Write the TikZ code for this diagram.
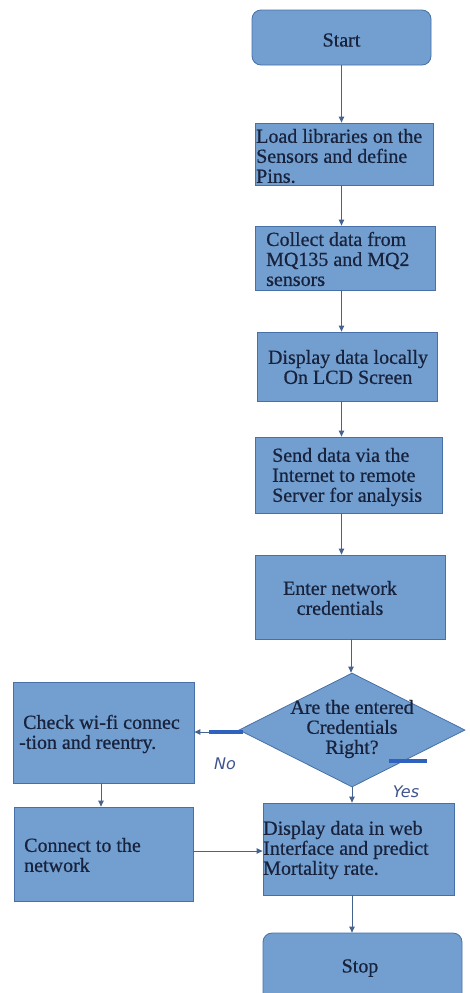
\documentclass[tikz,border=0pt]{standalone}
\usepackage{fontspec}
\setmainfont{Liberation Serif}[FakeBold=0.6]
\newfontfamily\boxfont{Liberation Serif}[FakeBold=0.6]
\newfontfamily\lblfont{DejaVu Sans}
\usetikzlibrary{shapes.geometric,arrows.meta}
\definecolor{boxfill}{RGB}{114,159,207}
\definecolor{boxline}{RGB}{72,112,168}
\definecolor{arrowc}{RGB}{70,98,145}
\definecolor{txtc}{RGB}{24,34,60}
\definecolor{barc}{RGB}{46,98,190}
\definecolor{lblc}{RGB}{62,84,140}
\begin{document}
\begin{tikzpicture}[x=1pt,y=-1pt,
 box/.style={draw=boxline, fill=boxfill, line width=0.8pt, inner sep=0pt},
 term/.style={box, rounded corners=9pt},
 txt/.style={text=txtc, font=\boxfont\fontsize{20}{20}\selectfont, inner sep=0pt},
 arr/.style={draw=arrowc, line width=0.9pt, -{Triangle[length=6pt,width=5.5pt]}},
 bar/.style={draw=barc, line width=3.5pt},
 lbl/.style={text=lblc, font=\lblfont\itshape\fontsize{16}{16}\selectfont, inner sep=0pt}]
\useasboundingbox (0,0) rectangle (470,993);

% boxes
\node[term, minimum width=179pt, minimum height=55pt] (start) at (341.5,37.5) {};
\node[box, minimum width=178pt, minimum height=62pt] (load) at (344,154) {};
\node[box, minimum width=180pt, minimum height=64pt] (collect) at (345,258) {};
\node[box, minimum width=180pt, minimum height=69pt] (display) at (347,366.5) {};
\node[box, minimum width=187pt, minimum height=76pt] (send) at (348.5,475) {};
\node[box, minimum width=190pt, minimum height=84pt] (enter) at (350,597) {};
\node[diamond, draw=boxline, fill=boxfill, line width=0.8pt, inner sep=0pt, minimum width=226pt, minimum height=114pt] (dia) at (352,730) {};
\node[box, minimum width=181pt, minimum height=101pt] (check) at (103.5,732.5) {};
\node[box, minimum width=179pt, minimum height=94pt] (connect) at (103.5,854) {};
\node[box, minimum width=191pt, minimum height=92pt] (web) at (358.5,849) {};
\node[term, minimum width=199pt, minimum height=70pt] (stop) at (362.5,968) {};

% texts
\node[txt] (startt) at (341.5,40) {Start};
\node[txt, anchor=west, align=left] (loadt) at (256,156) {Load libraries on the\\Sensors and define\\Pins.};
\node[txt, anchor=west, align=left] (collectt) at (266,259) {Collect data from\\MQ135 and MQ2\\sensors};
\node[txt, align=center] (displayt) at (348,367) {Display data locally\\On LCD Screen};
\node[txt, anchor=west, align=left] (sendt) at (272,477) {Send data via the\\Internet to remote\\Server for analysis};
\node[txt, align=center] (entert) at (340,598) {Enter network\\credentials};
\node[txt, align=center] (diat) at (352,729) {Are the entered\\Credentials\\Right?};
\node[txt, anchor=west, align=left] (checkt) at (19,734) {\hspace*{4pt}Check wi-fi connec\\-tion and reentry.};
\node[txt, anchor=west, align=left] (connectt) at (24,855) {Connect to the\\network};
\node[txt, anchor=west, align=left] (webt) at (263,850) {Display data in web\\Interface and predict\\Mortality rate.};
\node[txt] (stopt) at (360,968) {Stop};

% connectors
\draw[arr] (start.south) -- (start.south |- load.north);
\draw[arr] (load.south -| start.south) -- (collect.north -| start.south);
\draw[arr] (collect.south -| start.south) -- (display.north -| start.south);
\draw[arr] (display.south -| start.south) -- (send.north -| start.south);
\draw[arr] (send.south -| start.south) -- (enter.north -| start.south);
\draw[arr] ([xshift=1pt]enter.south) -- ([xshift=1pt]enter.south |- dia.north);
\draw[arr] ([yshift=-2pt]dia.west) -- ([yshift=-2pt]dia.west -| check.east);
\draw[arr] (dia.south) -- (dia.south |- web.north);
\draw[arr] ([xshift=-2.5pt]check.south) -- ([xshift=-2.5pt]check.south |- connect.north);
\draw[arr] ([yshift=3pt]connect.east) -- ([yshift=3pt]connect.east -| web.west);
\draw[arr] (dia.south |- web.south) -- (dia.south |- stop.north);

% bars
\coordinate (nb1) at (209,732);
\coordinate (nb2) at (243,732);
\coordinate (yb1) at (389,761);
\coordinate (yb2) at (427,761);
\draw[bar] (nb1) -- (nb2);
\draw[bar] (yb1) -- (yb2);

% labels
\node[lbl] (no) at (225,764) {No};
\node[lbl] (yes) at (406,792) {Yes};
\end{tikzpicture}
\end{document}
